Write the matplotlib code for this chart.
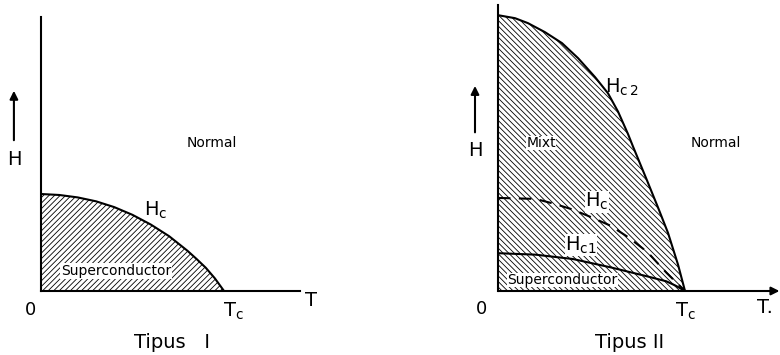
import numpy as np
import matplotlib
matplotlib.use("Agg")
import matplotlib.pyplot as plt

plt.rcParams['font.family'] = ['DejaVu Sans']
plt.rcParams['hatch.linewidth'] = 0.6

# critical field curves, T in units of Tc, H in units of Hc(0) of type I
t_type1 = [0, 0.1, 0.2, 0.3, 0.4, 0.5, 0.6, 0.7, 0.8, 0.85, 0.9, 0.95, 1.0]
hc_type1 = [1.0, 0.99, 0.965, 0.925, 0.865, 0.785, 0.685, 0.565, 0.415, 0.33, 0.24, 0.13, 0.0]

t_hc2 = [0, 0.091, 0.160, 0.251, 0.342, 0.428, 0.519, 0.588, 0.642, 0.695, 0.722,
         0.797, 0.856, 0.909, 0.963, 1.0]
hc2 = [2.845, 2.814, 2.763, 2.670, 2.557, 2.402, 2.206, 2.04, 1.85, 1.62, 1.49,
       1.14, 0.86, 0.60, 0.27, 0.0]

t_hc = [0, 0.1, 0.2, 0.3, 0.4, 0.5, 0.6, 0.7, 0.8, 0.9, 1.0]
hc = [0.96, 0.955, 0.95, 0.90, 0.84, 0.76, 0.675, 0.55, 0.40, 0.19, 0.0]

t_hc1 = [0, 0.2, 0.4, 0.6, 0.8, 0.9, 0.95, 1.0]
hc1 = [0.39, 0.375, 0.33, 0.245, 0.15, 0.10, 0.055, 0.0]

panel_titles = ["Tipus   I", "Tipus II"]

fig = plt.figure(figsize=(7.8, 3.55), dpi=100)
W, H = 780, 355

ax1 = fig.add_axes([41 / W, 64 / H, 259 / W, 274 / H])
ax2 = fig.add_axes([498 / W, 64 / H, 282 / W, 286 / H])
ax1.set_xlim(0, 1.415)
ax1.set_ylim(0, 2.825)
ax2.set_xlim(0, 1.508)
ax2.set_ylim(0, 2.95)

for ax in (ax1, ax2):
    ax.patch.set_visible(False)
    ax.set_xticks([])
    ax.set_yticks([])
    for side in ('top', 'right'):
        ax.spines[side].set_visible(False)
    for side in ('left', 'bottom'):
        ax.spines[side].set_linewidth(1.5)
ax2.spines['bottom'].set_visible(False)

lw = 1.5
big = 14
small = 10

# --- Type I ---
ax1.fill_between(t_type1, 0, hc_type1, hatch='//////', facecolor='none',
                 edgecolor='black', linewidth=0)
ax1.plot(t_type1, hc_type1, color='black', lw=lw)
ax1.text(0.934, 1.526, "Normal", fontsize=small, ha='center', va='center')
ax1.text(0.56, 0.835, r"$\mathrm{H_c}$", fontsize=big, ha='left', va='center')
ax1.text(0.41, 0.206, "Superconductor", fontsize=small, ha='center', va='center',
         bbox=dict(facecolor='white', edgecolor='none', pad=0.5))
ax1.text(-0.06, -0.196, "0", fontsize=13, ha='center', va='center', clip_on=False)
ax1.text(0.995, -0.206, r"$\mathrm{T_c}$", fontsize=big, ha='left', va='center')
ax1.text(1.475, -0.093, "T", fontsize=big, ha='center', va='center')
ax1.text(0.716, -0.536, panel_titles[0], fontsize=big, ha='center', va='center')
ax1.annotate("", xy=(-0.148, 2.093), xytext=(-0.148, 1.526),
             arrowprops=dict(arrowstyle='-|>', lw=1.5, color='black', mutation_scale=12),
             annotation_clip=False)
ax1.text(-0.148, 1.36, "H", fontsize=big, ha='center', va='center')

# --- Type II ---
ax2.fill_between(t_hc2, 0, hc2, hatch='\\' * 6, facecolor='none',
                 edgecolor='black', linewidth=0)
ax2.plot(t_hc2, hc2, color='black', lw=lw)
ax2.plot(t_hc, hc, color='black', lw=lw, linestyle=(0, (6, 4)))
ax2.plot(t_hc1, hc1, color='black', lw=lw)
ax2.annotate("", xy=(1.505, 0), xytext=(0, 0),
             arrowprops=dict(arrowstyle='-|>', lw=1.5, color='black', mutation_scale=12,
                             shrinkA=0, shrinkB=0),
             annotation_clip=False)

label_box = dict(facecolor='white', edgecolor='none', pad=0.3)
ax2.text(1.166, 1.526, "Normal", fontsize=small, ha='center', va='center')
ax2.text(0.23, 1.526, "Mixt", fontsize=small, ha='center', va='center', bbox=label_box)
ax2.text(0.572, 2.10, r"$\mathrm{H_{c\,2}}$", fontsize=big, ha='left', va='center')
ax2.text(0.465, 0.92, r"$\mathrm{H_c}$", fontsize=big, ha='left', va='center', bbox=label_box)
ax2.text(0.358, 0.47, r"$\mathrm{H_{c1}}$", fontsize=big, ha='left', va='center', bbox=label_box)
ax2.text(0.343, 0.113, "Superconductor", fontsize=small, ha='center', va='center',
         bbox=dict(facecolor='white', edgecolor='none', pad=0.3))
ax2.text(-0.086, -0.186, "0", fontsize=13, ha='center', va='center', clip_on=False)
ax2.text(0.947, -0.206, r"$\mathrm{T_c}$", fontsize=big, ha='left', va='center')
ax2.text(1.385, -0.175, "T.", fontsize=big, ha='left', va='center')
ax2.text(0.706, -0.536, panel_titles[1], fontsize=big, ha='center', va='center')
ax2.annotate("", xy=(-0.123, 2.144), xytext=(-0.123, 1.608),
             arrowprops=dict(arrowstyle='-|>', lw=1.5, color='black', mutation_scale=12),
             annotation_clip=False)
ax2.text(-0.123, 1.454, "H", fontsize=big, ha='center', va='center')

fig.savefig("out.png", dpi=100)
